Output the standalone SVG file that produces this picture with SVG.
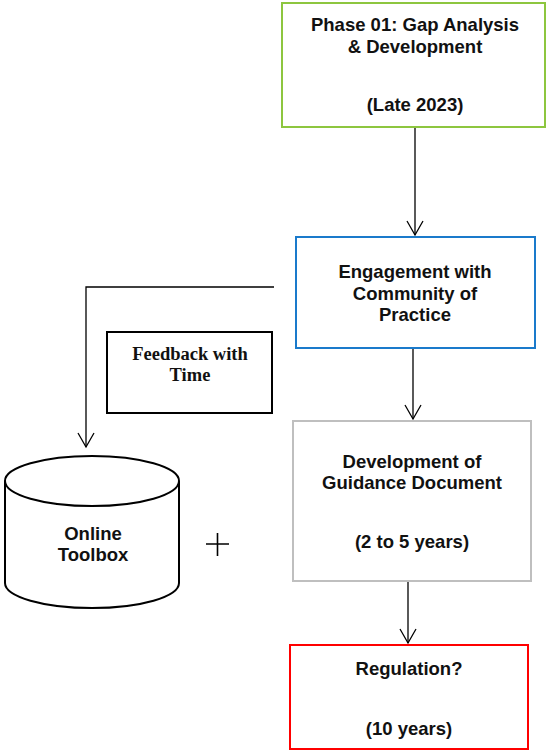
<svg xmlns="http://www.w3.org/2000/svg" width="548" height="751" viewBox="0 0 548 751">
<style>
.t{font-family:"Liberation Sans",Arial,sans-serif;font-weight:bold;font-size:18.5px;fill:#111;text-anchor:middle}
.s{font-family:"Liberation Serif","Times New Roman",serif;font-weight:bold;font-size:18.5px;fill:#111;text-anchor:middle}
.c{fill:none;stroke:#000;stroke-width:1.3}
</style>
<defs>
<marker id="a" markerWidth="20" markerHeight="20" refX="9" refY="15" orient="0" markerUnits="userSpaceOnUse" viewBox="0 0 20 20">
<path d="M1,1 L9,15 L17,1" fill="none" stroke="#000" stroke-width="1.3"/>
</marker>
</defs>
<rect width="548" height="751" fill="#fff"/>
<g id="connectors">
<line class="c" x1="415" y1="127" x2="415" y2="235" marker-end="url(#a)"/>
<line class="c" x1="413" y1="348" x2="413" y2="419" marker-end="url(#a)"/>
<line class="c" x1="408" y1="581" x2="408" y2="643" marker-end="url(#a)"/>
<polyline class="c" points="274,287 86,287 86,447" marker-end="url(#a)"/>
</g>
<g id="phase01">
<rect x="282" y="3" width="263" height="124" fill="#fff" stroke="#8dc63f" stroke-width="2"/>
<text class="t" x="415" y="31">Phase 01: Gap Analysis</text>
<text class="t" x="415" y="53">&amp; Development</text>
<text class="t" x="415" y="111">(Late 2023)</text>
</g>
<g id="engagement">
<rect x="296" y="237" width="239" height="111" fill="#fff" stroke="#1a7acb" stroke-width="2"/>
<text class="t" x="415" y="278">Engagement with</text>
<text class="t" x="415" y="300">Community of</text>
<text class="t" x="415" y="321">Practice</text>
</g>
<g id="feedback">
<rect x="107" y="332" width="165" height="81" fill="#fff" stroke="#000" stroke-width="2"/>
<text class="s" x="190" y="360">Feedback with</text>
<text class="s" x="190" y="381">Time</text>
</g>
<g id="toolbox">
<path d="M5,481 L5,583 A87,25 0 0 0 179,583 L179,481" fill="#fff" stroke="#000" stroke-width="2"/>
<ellipse cx="92" cy="481" rx="87" ry="25" fill="#fff" stroke="#000" stroke-width="2"/>
<text class="t" x="93" y="540">Online</text>
<text class="t" x="93" y="561">Toolbox</text>
</g>
<g id="plus">
<path d="M206,544 H229 M217.5,533 V556" stroke="#000" stroke-width="1.6" fill="none"/>
</g>
<g id="guidance">
<rect x="293" y="421" width="238" height="160" fill="#fff" stroke="#bfbfbf" stroke-width="2"/>
<text class="t" x="412" y="468">Development of</text>
<text class="t" x="412" y="489">Guidance Document</text>
<text class="t" x="412" y="548">(2 to 5 years)</text>
</g>
<g id="regulation">
<rect x="290" y="645" width="238" height="104" fill="#fff" stroke="#ff0000" stroke-width="2"/>
<text class="t" x="409" y="675">Regulation?</text>
<text class="t" x="409" y="735">(10 years)</text>
</g>
</svg>
